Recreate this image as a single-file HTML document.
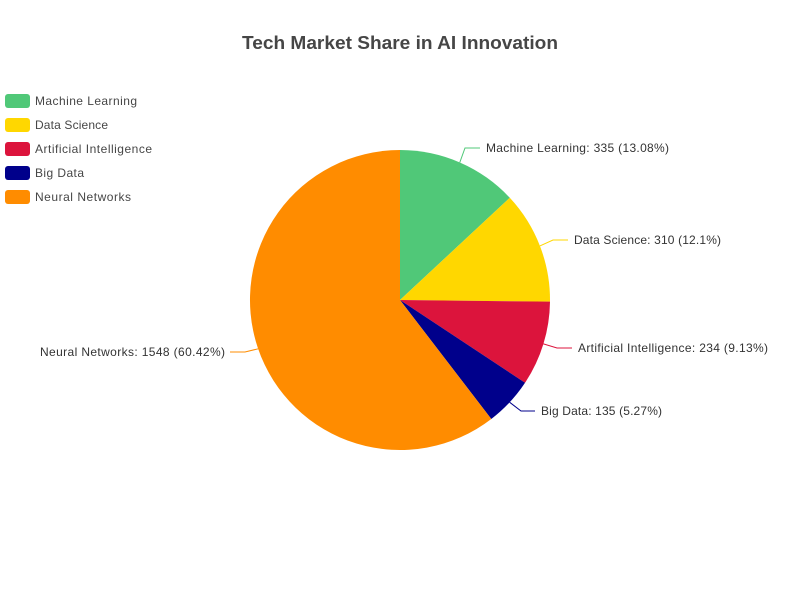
<!DOCTYPE html>
<html><head><meta charset="utf-8"><style>body{margin:0;background:#fff}svg{display:block}text{font-family:"Liberation Sans","Noto Sans CJK SC",sans-serif}</style></head>
<body>
<svg width="800" height="600" viewBox="0 0 800 600">
<text x="242" y="49" textLength="316" lengthAdjust="spacingAndGlyphs" font-size="18" font-weight="bold" fill="#464646">Tech Market Share in AI Innovation</text>
<g font-size="12" fill="#464646">
<rect x="5" y="94" width="25" height="14" rx="3" fill="#50c878"/><text x="35" y="105" textLength="102">Machine Learning</text>
<rect x="5" y="118" width="25" height="14" rx="3" fill="#ffd700"/><text x="35" y="129" textLength="73">Data Science</text>
<rect x="5" y="142" width="25" height="14" rx="3" fill="#dc143c"/><text x="35" y="153" textLength="117">Artificial Intelligence</text>
<rect x="5" y="166" width="25" height="14" rx="3" fill="#00008b"/><text x="35" y="177" textLength="49">Big Data</text>
<rect x="5" y="190" width="25" height="14" rx="3" fill="#ff8c00"/><text x="35" y="201" textLength="96">Neural Networks</text>
</g>
<g>
<path d="M400,300 L400,150 A150,150 0 0 1 509.8,197.8 Z" fill="#50c878"/>
<path d="M400,300 L509.8,197.8 A150,150 0 0 1 550,301.65 Z" fill="#ffd700"/>
<path d="M400,300 L550,301.65 A150,150 0 0 1 525.06,382.8 Z" fill="#dc143c"/>
<path d="M400,300 L525.06,382.8 A150,150 0 0 1 491.3,419 Z" fill="#00008b"/>
<path d="M400,300 L491.3,419 A150,150 0 1 1 400,150 Z" fill="#ff8c00"/>
</g>
<g fill="none" stroke-width="1">
<polyline points="459.8,162.4 465,148 480,148" stroke="#50c878"/>
<polyline points="539.9,245.9 553,240 568,240" stroke="#ffd700"/>
<polyline points="543.4,343.9 557,348 572,348" stroke="#dc143c"/>
<polyline points="509.7,402.3 521,411 535,411" stroke="#00008b"/>
<polyline points="258.2,348.8 245,352 230,352" stroke="#ff8c00"/>
</g>
<g font-size="12" fill="#333">
<text x="486" y="152" textLength="183">Machine Learning: 335 (13.08%)</text>
<text x="574" y="244" textLength="147">Data Science: 310 (12.1%)</text>
<text x="578" y="352" textLength="190">Artificial Intelligence: 234 (9.13%)</text>
<text x="541" y="415" textLength="121">Big Data: 135 (5.27%)</text>
<text x="40" y="356" textLength="185">Neural Networks: 1548 (60.42%)</text>
</g>
</svg>
</body></html>
